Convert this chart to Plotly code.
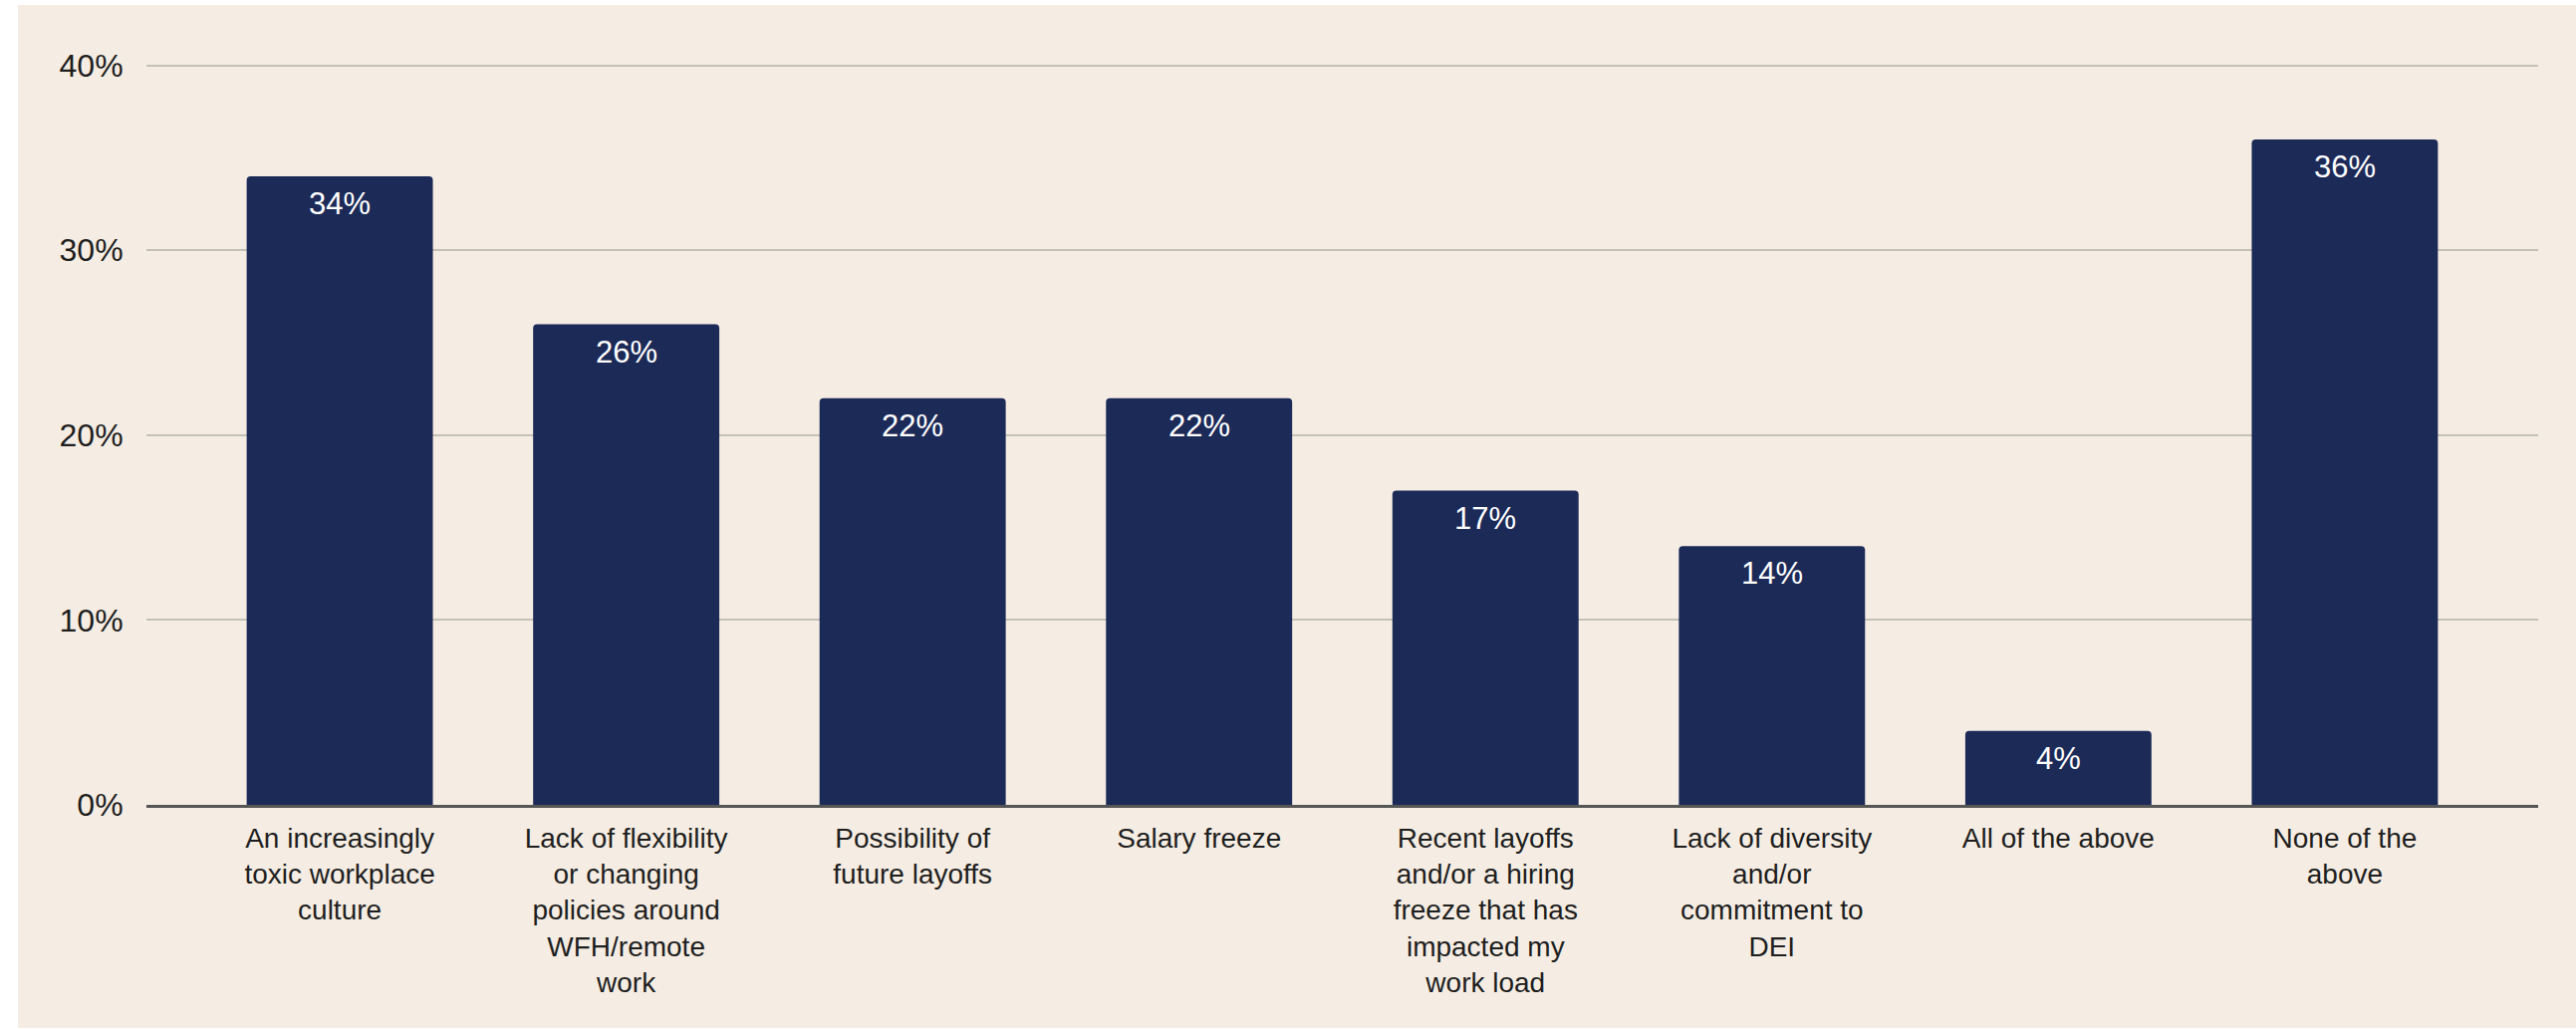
import plotly.graph_objects as go

categories = [
    "An increasingly<br>toxic workplace<br>culture",
    "Lack of flexibility<br>or changing<br>policies around<br>WFH/remote<br>work",
    "Possibility of<br>future layoffs",
    "Salary freeze",
    "Recent layoffs<br>and/or a hiring<br>freeze that has<br>impacted my<br>work load",
    "Lack of diversity<br>and/or<br>commitment to<br>DEI",
    "All of the above",
    "None of the<br>above",
]
values = [34, 26, 22, 22, 17, 14, 4, 36]
value_labels = [f"{v}%" for v in values]
y_ticks = [0, 10, 20, 30, 40]
y_tick_labels = [f"{t}%" for t in y_ticks]

BAR = "#1c2a58"
BG = "#f5ede3"
FONT = "Liberation Sans, Arial, sans-serif"

W, H = 2586, 1033
ML, MR, MT, MB = 147, 38, 62, 225
pw, ph = W - ML - MR, H - MT - MB

fig = go.Figure()
fig.add_trace(go.Bar(
    x=list(range(len(categories))),
    y=values,
    marker=dict(color=BAR, cornerradius=4, line=dict(width=0)),
    width=0.65,
    hoverinfo="skip",
))

for i, (v, lab) in enumerate(zip(values, value_labels)):
    fig.add_annotation(
        x=i, y=v, text=lab, showarrow=False, xref="x", yref="y",
        yanchor="top", yshift=-8,
        font=dict(family=FONT, size=31, color="white"),
    )

# beige card behind the chart, leaving thin white strips at top/left
fig.add_shape(
    type="rect", xref="paper", yref="paper", layer="below",
    x0=(18 - ML) / pw, x1=(W + 5 - ML) / pw,
    y0=-(MB - 1) / ph, y1=1 + (MT - 5) / ph,
    fillcolor=BG, line=dict(width=0),
)

fig.update_layout(
    width=W, height=H,
    margin=dict(l=ML, r=MR, t=MT, b=MB, pad=0),
    paper_bgcolor="white",
    plot_bgcolor="rgba(0,0,0,0)",
    showlegend=False,
    bargap=0.35,
    font=dict(family=FONT, color="#1e1e1e"),
)
fig.update_xaxes(
    range=[-0.675, 7.675],
    tickmode="array",
    tickvals=list(range(len(categories))),
    ticktext=categories,
    tickfont=dict(size=28, color="#1e1e1e"),
    showgrid=False,
    showline=True, linecolor="#555555", linewidth=3,
    ticks="outside", ticklen=6, tickcolor="rgba(0,0,0,0)",
    zeroline=False,
)
fig.update_yaxes(
    range=[0, 40.2],
    tickmode="array",
    tickvals=y_ticks,
    ticktext=y_tick_labels,
    tickfont=dict(size=32, color="#1e1e1e"),
    showgrid=True, gridcolor="#c4c1b6", gridwidth=2,
    zeroline=False,
    ticks="outside", ticklen=16, tickcolor="rgba(0,0,0,0)",
)

fig.write_html("out.html")
